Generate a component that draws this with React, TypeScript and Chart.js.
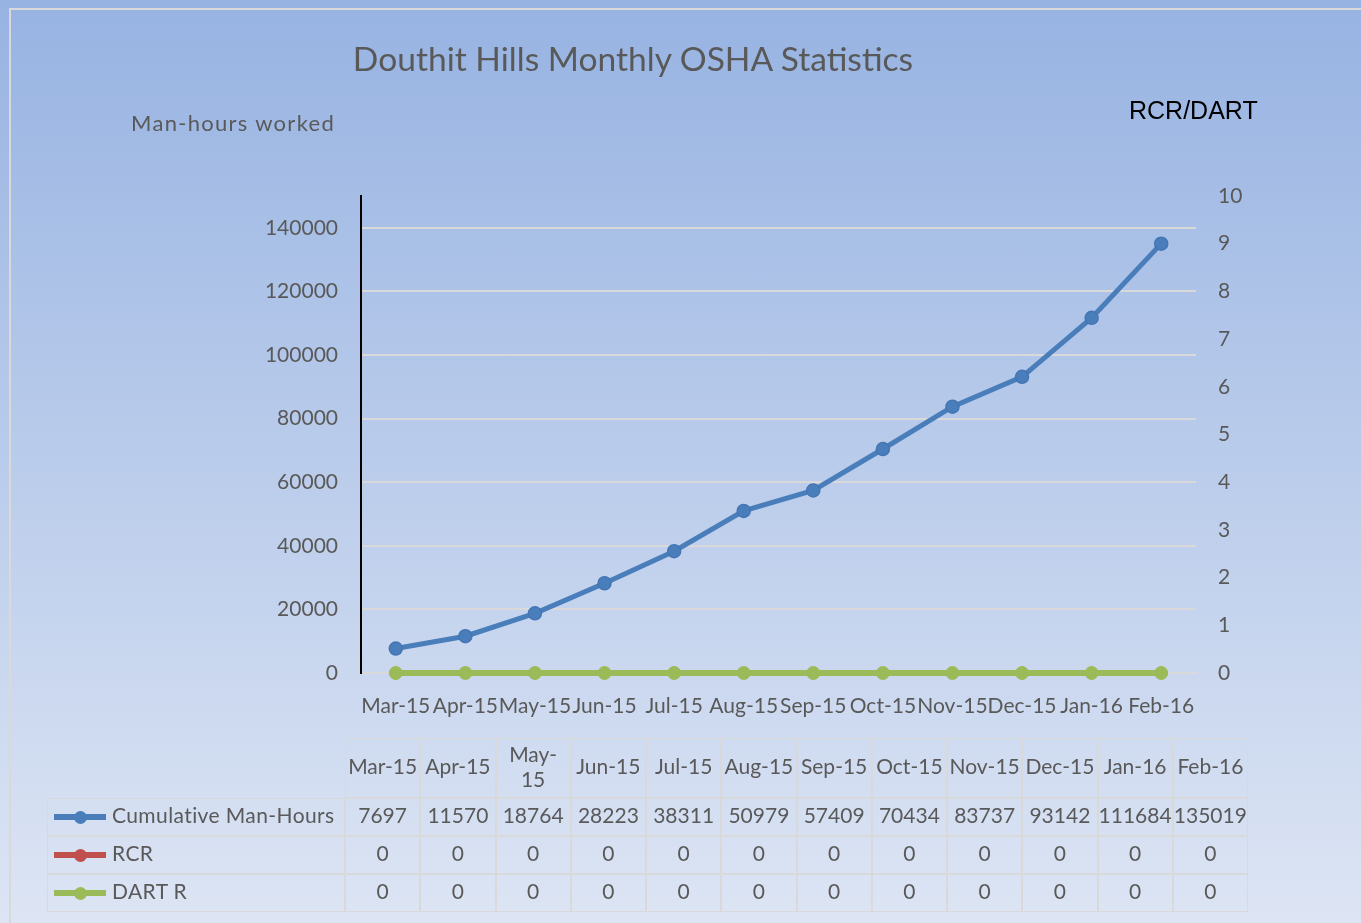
import React, { useEffect, useRef } from 'react';
import { Chart, registerables } from 'chart.js';

Chart.register(...registerables);

// ---- Data ----
const categories = ['Mar-15', 'Apr-15', 'May-15', 'Jun-15', 'Jul-15', 'Aug-15', 'Sep-15', 'Oct-15', 'Nov-15', 'Dec-15', 'Jan-16', 'Feb-16'];
const cumulativeManHours = [7697, 11570, 18764, 28223, 38311, 50979, 57409, 70434, 83737, 93142, 111684, 135019];
const rcrValues = [0, 0, 0, 0, 0, 0, 0, 0, 0, 0, 0, 0];
const dartRValues = [0, 0, 0, 0, 0, 0, 0, 0, 0, 0, 0, 0];
const seriesNames = ['Cumulative Man-Hours', 'RCR', 'DART R'];
const leftTickValues = [0, 20000, 40000, 60000, 80000, 100000, 120000, 140000];
const leftAxisMax = 150000;
const rightTickValues = [0, 1, 2, 3, 4, 5, 6, 7, 8, 9, 10];
const rightAxisMax = 10;

const titleText = 'Douthit Hills Monthly OSHA Statistics';
const leftAxisTitle = 'Man-hours worked';
const rightAxisTitle = 'RCR/DART';

// ---- Styles ----
const BLUE = '#4a7ebb';
const RED = '#c0504d';
const GREEN = '#9bbb59';
const TEXT = '#595959';
const GRID = '#d9d9d9';
const FONT = 'Lato, "Open Sans", sans-serif';
const seriesColors = [BLUE, RED, GREEN];

const TABLE_LEFT = 47;
const TABLE_COL0 = 345;
const TABLE_RIGHT = 1248;
const ROW_Y = [738, 798, 836, 874, 912];

export default function App() {
  const canvasRef = useRef<HTMLCanvasElement>(null);

  useEffect(() => {
    const tickFont = { family: FONT, size: 21 };
    const chart = new Chart(canvasRef.current!, {
      type: 'line',
      data: {
        labels: categories,
        datasets: [
          {
            label: seriesNames[0],
            data: cumulativeManHours,
            yAxisID: 'y',
            borderColor: BLUE,
            backgroundColor: BLUE,
            borderWidth: 5,
            pointRadius: 6.5,
            pointBorderColor: '#4476b4',
            pointBackgroundColor: BLUE,
            pointBorderWidth: 1.5,
            clip: false,
            order: 0,
          },
          {
            label: seriesNames[1],
            data: rcrValues,
            yAxisID: 'y1',
            borderColor: RED,
            backgroundColor: RED,
            borderWidth: 4,
            pointRadius: 5,
            pointBackgroundColor: RED,
            pointBorderColor: RED,
            pointBorderWidth: 0,
            clip: false,
            order: 2,
          },
          {
            label: seriesNames[2],
            data: dartRValues,
            yAxisID: 'y1',
            borderColor: GREEN,
            backgroundColor: GREEN,
            borderWidth: 6,
            pointRadius: 6.5,
            pointBackgroundColor: GREEN,
            pointBorderColor: GREEN,
            pointBorderWidth: 1,
            clip: false,
            order: 1,
          },
        ],
      },
      options: {
        responsive: false,
        animation: false,
        devicePixelRatio: 1,
        layout: { padding: { top: 196, left: 0, right: 0, bottom: 200 } },
        plugins: {
          legend: { display: false },
          tooltip: { enabled: false },
          title: { display: false },
        },
        scales: {
          x: {
            offset: true,
            grid: { display: false, drawTicks: false },
            border: { color: GRID, width: 2 },
            ticks: {
              autoSkip: false,
              maxRotation: 0,
              minRotation: 0,
              color: TEXT,
              font: tickFont,
              padding: 21,
            },
            afterFit: (s: any) => {
              s.height = 50;
            },
          },
          y: {
            position: 'left',
            min: 0,
            max: leftAxisMax,
            ticks: {
              autoSkip: false,
              padding: 23,
              color: TEXT,
              font: tickFont,
              callback: (v: any) => String(v),
            },
            grid: { color: GRID, lineWidth: 2, drawTicks: false },
            border: { color: '#000000', width: 2 },
            afterBuildTicks: (s: any) => {
              s.ticks = leftTickValues.map((value) => ({ value }));
            },
            afterFit: (s: any) => {
              s.width = 361;
            },
          },
          y1: {
            position: 'right',
            min: 0,
            max: rightAxisMax,
            ticks: {
              autoSkip: false,
              padding: 22,
              color: TEXT,
              font: tickFont,
              callback: (v: any) => String(v),
            },
            grid: { display: false, drawTicks: false },
            border: { display: false },
            afterBuildTicks: (s: any) => {
              s.ticks = rightTickValues.map((value) => ({ value }));
            },
            afterFit: (s: any) => {
              s.width = 165;
            },
          },
        },
      },
    });
    return () => chart.destroy();
  }, []);

  const nCols = categories.length;
  const colW = (TABLE_RIGHT - TABLE_COL0) / nCols;
  const seriesValues = [cumulativeManHours, rcrValues, dartRValues];

  const cellBase: React.CSSProperties = {
    position: 'absolute',
    boxSizing: 'border-box',
    border: `1px solid ${GRID}`,
    display: 'flex',
    alignItems: 'center',
    justifyContent: 'center',
    textAlign: 'center',
    color: TEXT,
    fontFamily: FONT,
    fontSize: 21,
    lineHeight: '25px',
    paddingBottom: 5,
  };

  const cells: React.ReactNode[] = [];
  categories.forEach((c, i) => {
    cells.push(
      <div
        key={`h${i}`}
        style={{
          ...cellBase,
          left: TABLE_COL0 + i * colW,
          top: ROW_Y[0],
          width: colW,
          height: ROW_Y[1] - ROW_Y[0],
          padding: '0 1px 5px 1px',
        }}
      >
        <span>{c}</span>
      </div>
    );
  });
  seriesNames.forEach((name, r) => {
    const top = ROW_Y[r + 1];
    const h = ROW_Y[r + 2] - top;
    cells.push(
      <div
        key={`l${r}`}
        style={{
          ...cellBase,
          left: TABLE_LEFT,
          top,
          width: TABLE_COL0 - TABLE_LEFT,
          height: h,
          justifyContent: 'flex-start',
          whiteSpace: 'nowrap',
          paddingBottom: 0,
        }}
      >
        <div style={{ position: 'relative', width: 52, height: h - 2, marginLeft: 6, marginRight: 6, flex: 'none' }}>
          <div
            style={{
              position: 'absolute',
              left: 0,
              width: 52,
              top: (h - 2) / 2 - 3,
              height: 6,
              background: seriesColors[r],
            }}
          />
          <div
            style={{
              position: 'absolute',
              left: 26 - 6.5,
              top: (h - 2) / 2 - 6.5,
              width: 13,
              height: 13,
              borderRadius: 6.5,
              background: seriesColors[r],
            }}
          />
        </div>
        <span style={{ letterSpacing: 0.4, position: 'relative', top: -2.5 }}>{name}</span>
      </div>
    );
    seriesValues[r].forEach((v, i) => {
      cells.push(
        <div
          key={`v${r}_${i}`}
          style={{
            ...cellBase,
            left: TABLE_COL0 + i * colW,
            top,
            width: colW,
            height: h,
            whiteSpace: 'nowrap',
          }}
        >
          {String(v)}
        </div>
      );
    });
  });

  return (
    <div
      style={{
        position: 'fixed',
        left: 0,
        top: 0,
        width: 1361,
        height: 923,
        overflow: 'hidden',
        background: 'linear-gradient(180deg, #97b3e2 0%, #dde5f4 100%)',
      }}
    >
      <div
        style={{
          position: 'absolute',
          left: 9,
          top: 8,
          width: 1400,
          height: 1000,
          border: `2px solid ${GRID}`,
          boxSizing: 'border-box',
        }}
      />
      <canvas ref={canvasRef} width={1361} height={923} style={{ position: 'absolute', left: 0, top: 0, display: 'block' }} />
      <div
        style={{
          position: 'absolute',
          left: 633,
          top: 37,
          transform: 'translateX(-50%)',
          whiteSpace: 'nowrap',
          fontFamily: FONT,
          fontSize: 33.6,
          lineHeight: '42px',
          color: TEXT,
        }}
      >
        {titleText}
      </div>
      <div
        style={{
          position: 'absolute',
          left: 131,
          top: 109,
          whiteSpace: 'nowrap',
          fontFamily: FONT,
          fontSize: 22,
          letterSpacing: 1.3,
          lineHeight: '28px',
          color: TEXT,
        }}
      >
        {leftAxisTitle}
      </div>
      <div
        style={{
          position: 'absolute',
          left: 1129,
          top: 95,
          whiteSpace: 'nowrap',
          fontFamily: '"Liberation Sans", Arial, sans-serif',
          fontSize: 25,
          lineHeight: '30px',
          color: '#000000',
        }}
      >
        {rightAxisTitle}
      </div>
      {cells}
    </div>
  );
}
